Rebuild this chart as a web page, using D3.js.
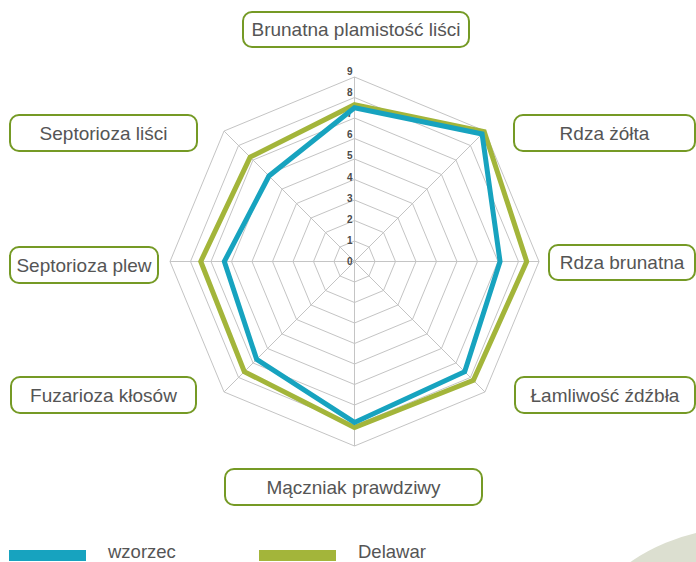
<!DOCTYPE html>
<html>
<head>
<meta charset="utf-8">
<script src="https://cdn.jsdelivr.net/npm/d3@7"></script>
<style>
  body { margin: 0; background: #fff; }
  svg { display: block; font-family: "Liberation Sans", Arial, sans-serif; }
</style>
</head>
<body>
<div id="chart"></div>
<script>
// axes of the radar, clockwise from top
var categories = ["Brunatna plamistość liści", "Rdza żółta", "Rdza brunatna", "Łamliwość źdźbła",
                  "Mączniak prawdziwy", "Fuzarioza kłosów", "Septorioza plew", "Septorioza liści"];
var wzorzec = [7.5, 8.8, 7.1, 7.6, 7.85, 6.75, 6.35, 5.9];
var delawar = [7.65, 8.95, 8.4, 8.2, 8.1, 7.6, 7.5, 7.2];
var ticks = [0, 1, 2, 3, 4, 5, 6, 7, 8, 9];
var seriesNames = ["wzorzec", "Delawar"];

// label boxes (layout only)
var boxes = [
  {x: 243, y: 12, w: 226, h: 35},
  {x: 514, y: 115, w: 181, h: 36},
  {x: 549, y: 245, w: 146, h: 35},
  {x: 515, y: 377, w: 180, h: 36},
  {x: 225, y: 469, w: 257, h: 36},
  {x: 11, y: 377, w: 185, h: 36},
  {x: 10, y: 247, w: 148, h: 36},
  {x: 10, y: 115, w: 187, h: 36}
];

var width = 696, height = 562;
var cx = 354.5, cy = 261.5, R = 184.5;
var blue = "#17a3bf", green = "#a3b53a", olive = "#759a25", textCol = "#555";

var svg = d3.select("#chart").append("svg")
    .attr("width", width)
    .attr("height", height);

// decorative shape bottom right
svg.append("circle")
    .attr("cx", 740).attr("cy", 722).attr("r", 194)
    .attr("fill", "#dcdfd0");

var g = svg.append("g")
    .attr("transform", "translate(" + cx + "," + cy + ")");

var rScale = d3.scaleLinear().domain([0, 9]).range([0, R]);
var tickScale = d3.scaleLinear().domain([0, 9]).range([0, 190]);
var angle = d3.scalePoint().domain(d3.range(categories.length + 1)).range([0, 2 * Math.PI]);

var radial = d3.lineRadial()
    .angle(function(d, i) { return angle(i); })
    .radius(function(d) { return rScale(d); })
    .curve(d3.curveLinearClosed);

// grid rings
g.selectAll(".ring")
  .data(ticks.slice(1))
  .enter().append("path")
    .attr("class", "ring")
    .attr("d", function(t) { return radial(categories.map(function() { return t; })); })
    .attr("fill", "none")
    .attr("stroke", "#c4c4c4")
    .attr("stroke-width", 1);

// spokes
g.selectAll(".spoke")
  .data(categories)
  .enter().append("line")
    .attr("class", "spoke")
    .attr("x1", 0).attr("y1", 0)
    .attr("x2", function(d, i) { return rScale(9) * Math.sin(angle(i)); })
    .attr("y2", function(d, i) { return -rScale(9) * Math.cos(angle(i)); })
    .attr("stroke", "#c4c4c4")
    .attr("stroke-width", 1);

// tick labels
g.selectAll(".tick-label")
  .data(ticks)
  .enter().append("text")
    .attr("class", "tick-label")
    .attr("x", -2)
    .attr("y", function(t) { return -tickScale(t); })
    .attr("dy", "0.35em")
    .attr("text-anchor", "end")
    .attr("font-size", 10)
    .attr("font-weight", "bold")
    .attr("fill", "#4a4a4a")
    .text(function(t) { return t; });

// series
var series = [
  {name: seriesNames[1], values: delawar, color: green},
  {name: seriesNames[0], values: wzorzec, color: blue}
];

g.selectAll(".series")
  .data(series)
  .enter().append("path")
    .attr("class", "series")
    .attr("d", function(s) { return radial(s.values); })
    .attr("fill", "none")
    .attr("stroke", function(s) { return s.color; })
    .attr("stroke-width", 5)
    .attr("stroke-linejoin", "miter");

// category boxes
var lab = svg.selectAll(".cat")
  .data(categories)
  .enter().append("g")
    .attr("class", "cat");

lab.append("rect")
    .attr("x", function(d, i) { return boxes[i].x; })
    .attr("y", function(d, i) { return boxes[i].y; })
    .attr("width", function(d, i) { return boxes[i].w; })
    .attr("height", function(d, i) { return boxes[i].h; })
    .attr("rx", 9)
    .attr("fill", "#fff")
    .attr("stroke", olive)
    .attr("stroke-width", 2);

lab.append("text")
    .attr("x", function(d, i) { return boxes[i].x + boxes[i].w / 2; })
    .attr("y", function(d, i) { return boxes[i].y + boxes[i].h / 2; })
    .attr("dy", "0.36em")
    .attr("text-anchor", "middle")
    .attr("font-size", 19)
    .attr("fill", textCol)
    .text(function(d) { return d; });

// legend
var legend = [
  {name: seriesNames[0], color: blue, x: 9},
  {name: seriesNames[1], color: green, x: 259}
];
var lg = svg.selectAll(".legend")
  .data(legend)
  .enter().append("g")
    .attr("class", "legend");

lg.append("rect")
    .attr("x", function(d) { return d.x; })
    .attr("y", 550)
    .attr("width", 77)
    .attr("height", 11)
    .attr("fill", function(d) { return d.color; });

lg.append("text")
    .attr("x", function(d) { return d.x + 99; })
    .attr("y", 558)
    .attr("font-size", 18.5)
    .attr("fill", textCol)
    .text(function(d) { return d.name; });
</script>
</body>
</html>
